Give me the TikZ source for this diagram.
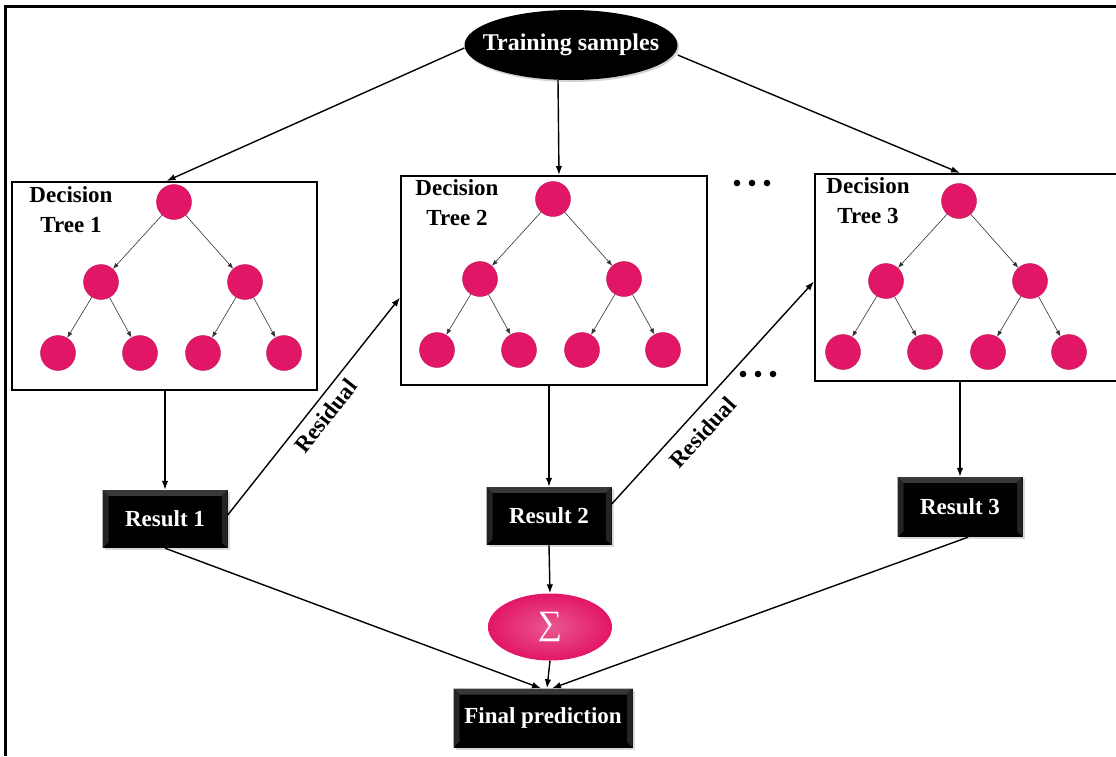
\documentclass[tikz,border=0pt]{standalone}
\usepackage{fontspec}
\setmainfont{Liberation Serif}
\usetikzlibrary{arrows.meta,shapes.geometric,shadows,calc}

\definecolor{leaf}{RGB}{226,22,102}

\tikzset{
  treebox/.style={draw=black, line width=2pt, fill=white, inner sep=0pt},
  tnode/.style={circle, fill=leaf, draw=leaf!85!black, line width=0.4pt,
                minimum size=35pt, inner sep=0pt},
  tedge/.style={-{Latex[length=6pt,width=4.5pt]}, line width=0.6pt, draw=black!80},
  flow/.style={-{Latex[length=9pt,width=6.5pt]}, line width=1.4pt},
  bigfont/.style={font=\fontsize{23}{30}\bfseries\selectfont},
  bevel/.style={path picture={
      \fill[black!78] (path picture bounding box.north west)
        -- (path picture bounding box.north east)
        -- ([shift={(-6pt,-6pt)}]path picture bounding box.north east)
        -- ([shift={(6pt,-6pt)}]path picture bounding box.north west) -- cycle;
      \fill[black!86] (path picture bounding box.north west)
        -- ([shift={(6pt,-6pt)}]path picture bounding box.north west)
        -- ([shift={(6pt,6pt)}]path picture bounding box.south west)
        -- (path picture bounding box.south west) -- cycle;
      \fill[black!86] (path picture bounding box.north east)
        -- ([shift={(-6pt,-6pt)}]path picture bounding box.north east)
        -- ([shift={(-6pt,6pt)}]path picture bounding box.south east)
        -- (path picture bounding box.south east) -- cycle;
      \fill[black] ([shift={(6pt,-6pt)}]path picture bounding box.north west)
        rectangle ([shift={(-6pt,6pt)}]path picture bounding box.south east);
    }},
  resultbox/.style={rectangle, fill=black, text=white, bigfont, bevel,
                    minimum width=125pt, minimum height=58pt,
                    drop shadow={shadow xshift=2pt, shadow yshift=-2pt, opacity=0.3}},
  treelabel/.style={bigfont, align=center, inner sep=0pt},
}

\begin{document}
\begin{tikzpicture}[x=1pt, y=-1pt]
\useasboundingbox (0,0) rectangle (1116,756);

% outer frame (left and top edges)
\draw[line width=3pt] (5.5,756) -- (5.5,6) -- (1116,6);

% source of the training data
\node[ellipse, fill=black, text=white, font=\fontsize{24}{30}\bfseries\selectfont,
      inner sep=0pt, minimum width=213pt, minimum height=70pt,
      drop shadow={shadow xshift=1.5pt, shadow yshift=-2pt, opacity=0.35}]
  (train) at (571,45) {\makebox[0pt]{Training samples}};

% decision tree frames
\node[treebox, anchor=north west, minimum width=305pt, minimum height=208pt] (box1) at (11,181) {};
\node[treebox, anchor=north west, minimum width=306pt, minimum height=209pt] (box2) at (400,175) {};
\node[treebox, anchor=north west, minimum width=306pt, minimum height=207pt] (box3) at (814,173) {};

\node[treelabel] (lab1) at ($(box1.north west)+(60,29)$) {Decision\\Tree 1};
\node[treelabel] (lab2) at ($(box2.north west)+(57,28)$) {Decision\\Tree 2};
\node[treelabel] (lab3) at ($(box3.north west)+(54,28)$) {Decision\\Tree 3};

% binary trees inside the frames
\foreach \t/\x/\y in {1/174/202, 2/553/199, 3/959/201} {
  \node[tnode] (t\t r) at (\x,\y) {};
  \node[tnode] (t\t a) at (\x-73,\y+80) {};
  \node[tnode] (t\t b) at (\x+71,\y+80) {};
  \node[tnode] (t\t c) at (\x-116,\y+151) {};
  \node[tnode] (t\t d) at (\x-34,\y+151) {};
  \node[tnode] (t\t e) at (\x+29,\y+151) {};
  \node[tnode] (t\t f) at (\x+110,\y+151) {};
  \draw[tedge] (t\t r) -- (t\t a);
  \draw[tedge] (t\t r) -- (t\t b);
  \draw[tedge] (t\t a) -- (t\t c);
  \draw[tedge] (t\t a) -- (t\t d);
  \draw[tedge] (t\t b) -- (t\t e);
  \draw[tedge] (t\t b) -- (t\t f);
}

% ellipsis marks between tree 2 and tree 3
\foreach \cx/\cy in {752/183, 758/374} {
  \foreach \k in {-15,0,15} \fill (\cx+\k,\cy) circle (3.3pt);
}

% results
\node[resultbox] (r1) at (165,519) {Result 1};
\node[resultbox] (r2) at (549,516) {Result 2};
\node[resultbox, minimum height=60pt] (r3) at (960,507) {Result 3};

% sum and final prediction
\node[ellipse, minimum width=124pt, minimum height=67pt, inner color=leaf!72!white,
      outer color=leaf, text=white, font=\fontsize{34}{34}\selectfont]
  (sum) at (550,627) {∑};
\node[resultbox, minimum width=179pt, minimum height=59pt] (final) at (543,718) {Final prediction};

% training samples to each tree
\draw[flow] ([yshift=-3pt]train.west) -- ([xshift=2pt]box1.north);
\draw[flow] ([xshift=-13pt]train.south) -- ([xshift=5pt]box2.north);
\draw[flow] ([yshift=-10pt]train.east) -- ([xshift=-8pt]box3.north);

% trees to results
\draw[flow] (box1.south -| r1) -- (r1.north);
\draw[flow] (box2.south -| r2) -- (r2.north);
\draw[flow] (box3.south -| r3) -- (r3.north);

% residuals passed to the next tree
\draw[flow] ([yshift=4pt]r1.east) -- ([yshift=-17pt]box2.west)
  node[pos=0.5, sloped, below=3pt, bigfont] {Residual};
\draw[flow] ([yshift=12pt]r2.east) -- ([yshift=-4pt]box3.west)
  node[pos=0.38, sloped, below=7pt, bigfont] {Residual};

% combining the results
\draw[flow] (r2.south) -- (sum.north);
\draw[flow] (sum.south) -- ([xshift=4pt]final.north);
\draw[flow] (r1.south) -- ([xshift=-2pt]final.north);
\draw[flow] ([xshift=8pt]r3.south) -- ([xshift=9pt]final.north);
\end{tikzpicture}
\end{document}
